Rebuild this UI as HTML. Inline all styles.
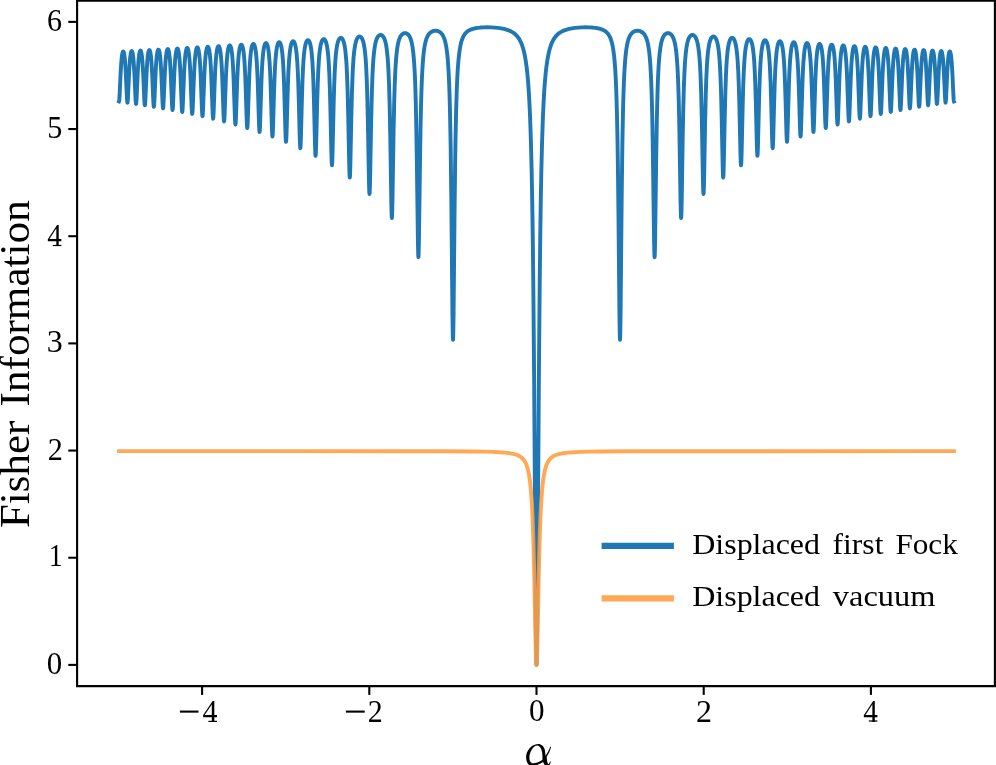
<!DOCTYPE html><html><head><meta charset="utf-8"><title>Fisher Information</title><style>html,body{margin:0;padding:0;background:#fff}body{width:996px;height:765px;overflow:hidden}svg{display:block}text{font-family:"Liberation Serif",serif;fill:#000}</style></head><body>
<svg width="996" height="765" viewBox="0 0 996 765">
<rect width="996" height="765" fill="#fff"/>
<path d="M119.00 101.45L119.14 101.08L119.28 99.99L119.56 95.99L120.67 72.11L121.23 63.09L121.78 57.07L122.06 55.00L122.48 52.85L122.76 51.99L123.04 51.55L123.18 51.48L123.31 51.50L123.45 51.63L123.73 52.18L124.01 53.16L124.29 54.59L124.85 59.09L125.26 64.18L125.68 71.03L126.93 98.05L127.21 101.68L127.35 102.50L127.44 102.64L127.63 101.91L127.91 98.54L129.16 71.60L129.86 60.91L130.27 56.69L130.83 53.09L131.25 51.61L131.53 51.14L131.66 51.04L131.80 51.04L132.08 51.33L132.36 52.01L132.78 53.83L133.19 56.75L133.61 61.01L134.31 71.85L135.56 99.48L135.84 103.05L135.98 103.81L136.05 103.91L136.12 103.81L136.26 103.04L136.54 99.45L137.79 71.84L138.48 60.96L138.90 56.65L139.46 52.91L139.88 51.32L140.15 50.76L140.43 50.57L140.71 50.74L140.99 51.29L141.41 52.85L141.96 56.55L142.38 60.85L143.08 71.75L144.33 100.11L144.61 104.08L144.75 105.05L144.85 105.27L144.88 105.24L145.02 104.65L145.16 103.30L145.44 98.75L146.56 73.12L147.25 61.68L147.67 57.08L148.22 53.02L148.50 51.71L148.78 50.80L149.06 50.27L149.34 50.09L149.62 50.26L149.89 50.78L150.17 51.68L150.45 52.99L151.01 57.05L151.43 61.66L152.12 73.19L153.37 102.21L153.65 105.89L153.79 106.65L153.85 106.73L153.93 106.61L154.07 105.77L154.35 101.95L155.60 72.93L156.02 65.43L156.44 59.76L156.85 55.63L157.41 52.01L157.69 50.87L157.97 50.10L158.25 49.68L158.52 49.60L158.80 49.85L159.08 50.44L159.36 51.39L159.64 52.74L160.19 56.87L160.61 61.52L161.31 73.13L162.56 102.99L162.84 107.12L162.98 108.11L163.08 108.32L163.12 108.28L163.25 107.63L163.53 104.07L164.79 74.40L165.20 66.51L165.62 60.50L166.04 56.07L166.60 52.13L166.87 50.83L167.15 49.91L167.43 49.34L167.57 49.17L167.85 49.08L168.13 49.30L168.26 49.53L168.54 50.24L168.82 51.31L169.10 52.78L169.66 57.15L170.07 62.00L170.77 74.04L172.02 104.72L172.30 108.88L172.44 109.85L172.53 110.04L172.72 109.27L173.00 105.53L174.25 75.02L174.67 66.93L175.08 60.74L175.64 54.96L176.20 51.31L176.48 50.11L176.75 49.27L177.03 48.75L177.17 48.60L177.45 48.54L177.73 48.77L177.87 49.00L178.15 49.70L178.42 50.73L178.70 52.15L179.26 56.35L179.68 61.01L180.09 67.33L180.51 75.62L181.76 107.11L182.04 111.04L182.18 111.83L182.24 111.90L182.32 111.75L182.46 110.81L182.74 106.62L183.99 75.12L184.41 66.94L184.83 60.70L185.38 54.83L185.94 51.08L186.22 49.82L186.64 48.57L186.91 48.12L187.05 48.01L187.33 47.98L187.61 48.24L187.75 48.47L188.03 49.17L188.31 50.19L188.58 51.57L189.14 55.65L189.70 61.98L190.11 68.71L190.53 77.47L191.64 106.90L191.92 111.95L192.06 113.38L192.22 113.95L192.34 113.61L192.48 112.40L192.76 107.70L194.01 75.18L194.43 66.93L194.85 60.63L195.40 54.68L195.96 50.84L196.24 49.53L196.65 48.18L196.93 47.65L197.07 47.49L197.35 47.36L197.63 47.50L197.77 47.66L198.05 48.20L198.46 49.57L198.74 50.90L199.30 54.80L199.86 60.85L200.27 67.27L200.69 75.71L201.94 109.36L202.22 114.38L202.36 115.74L202.50 116.19L202.64 115.72L202.78 114.36L203.06 109.32L204.31 75.76L204.73 67.31L205.14 60.86L205.70 54.74L206.26 50.73L206.54 49.34L206.95 47.86L207.37 47.01L207.51 46.86L207.79 46.74L208.07 46.86L208.21 47.01L208.62 47.86L209.04 49.35L209.32 50.76L209.88 54.79L210.43 60.98L210.85 67.53L211.27 76.12L212.66 113.99L212.94 117.98L213.11 118.67L213.22 118.37L213.36 117.15L213.63 112.25L214.89 77.56L215.30 68.66L215.86 59.94L216.42 54.03L216.69 51.88L217.11 49.42L217.39 48.21L217.81 46.95L218.23 46.25L218.37 46.14L218.64 46.09L218.92 46.26L219.06 46.43L219.48 47.31L219.90 48.79L220.17 50.17L220.59 52.95L220.87 55.38L221.43 61.99L221.84 68.94L222.26 78.03L223.51 114.09L223.79 119.48L223.93 120.93L224.07 121.43L224.21 120.93L224.35 119.48L224.63 114.10L225.88 78.14L226.30 69.05L226.85 60.14L227.41 54.08L227.69 51.84L228.11 49.27L228.52 47.45L228.94 46.25L229.36 45.58L229.50 45.46L229.78 45.39L230.06 45.52L230.19 45.67L230.61 46.44L231.03 47.75L231.45 49.72L231.86 52.48L232.14 54.87L232.70 61.37L233.26 70.92L233.67 80.64L234.93 118.04L235.20 123.10L235.34 124.29L235.44 124.51L235.62 123.60L235.90 119.09L237.29 78.39L237.71 69.19L238.27 60.17L238.54 56.79L238.96 52.81L239.24 50.74L239.66 48.35L240.07 46.65L240.49 45.51L240.91 44.86L241.19 44.67L241.47 44.68L241.88 45.04L242.30 45.86L242.72 47.19L243.14 49.13L243.55 51.83L243.83 54.16L244.25 58.63L244.53 62.43L245.08 72.53L245.50 82.78L246.75 121.69L247.03 126.74L247.17 127.84L247.25 127.99L247.31 127.88L247.45 126.85L247.73 121.92L249.12 79.49L249.54 70.00L250.10 60.68L250.37 57.17L250.79 53.02L251.07 50.85L251.49 48.31L251.90 46.46L252.46 44.84L252.88 44.16L253.16 43.93L253.44 43.88L253.71 44.00L253.99 44.29L254.41 45.07L254.97 46.86L255.38 48.88L255.80 51.65L256.08 54.00L256.50 58.52L256.78 62.33L257.33 72.47L257.75 82.79L259.00 123.60L259.28 129.71L259.42 131.37L259.56 131.96L259.70 131.42L259.98 127.19L261.51 79.40L261.92 69.88L262.48 60.55L263.18 52.84L263.59 49.69L264.01 47.33L264.43 45.60L264.99 44.06L265.26 43.57L265.54 43.24L265.82 43.08L266.10 43.06L266.38 43.20L266.66 43.50L267.07 44.26L267.63 45.95L268.05 47.82L268.46 50.37L268.88 53.77L269.58 62.10L270.13 72.20L270.55 82.51L271.94 129.27L272.22 134.98L272.36 136.29L272.45 136.52L272.64 135.42L272.78 133.30L273.06 126.33L274.03 92.22L274.45 79.94L274.87 70.26L275.42 60.77L276.12 52.90L276.54 49.64L277.09 46.51L277.65 44.39L278.21 43.04L278.49 42.62L278.76 42.33L279.04 42.19L279.32 42.18L279.74 42.42L280.02 42.76L280.57 43.89L281.13 45.76L281.55 47.76L281.96 50.43L282.38 53.95L283.08 62.51L283.63 72.86L284.05 83.42L285.58 136.52L285.86 141.23L286.00 141.85L286.14 141.22L286.28 139.40L286.56 132.69L287.53 96.94L288.09 79.84L288.50 70.16L289.06 60.67L289.76 52.76L290.18 49.46L290.73 46.24L291.29 44.01L291.85 42.52L292.12 42.01L292.54 41.49L292.82 41.29L293.24 41.23L293.65 41.42L293.93 41.70L294.49 42.67L295.05 44.24L295.60 46.60L296.16 50.00L296.58 53.50L297.27 61.90L297.83 72.00L298.25 82.35L298.80 100.64L299.78 138.73L300.06 145.73L300.19 147.59L300.33 148.16L300.47 147.43L300.61 145.43L300.89 138.22L301.87 100.27L302.42 82.21L302.98 69.12L303.53 59.94L303.95 54.91L304.37 51.05L304.79 48.07L305.34 45.12L305.90 43.04L306.18 42.26L306.60 41.35L306.88 40.91L307.29 40.45L307.71 40.22L308.13 40.22L308.54 40.44L308.82 40.72L309.24 41.35L309.52 41.93L310.08 43.51L310.63 45.80L311.19 49.06L311.61 52.35L312.02 56.64L312.44 62.23L313.00 72.49L313.42 83.00L313.97 101.72L315.09 147.53L315.36 154.15L315.50 155.60L315.58 155.81L315.64 155.67L315.78 154.34L316.06 147.94L317.17 102.53L317.73 83.77L318.29 70.23L318.84 60.72L319.26 55.49L319.82 50.32L320.37 46.61L320.93 43.94L321.63 41.63L322.32 40.17L322.74 39.61L323.16 39.25L323.58 39.09L323.99 39.11L324.41 39.32L324.83 39.72L325.25 40.34L325.52 40.88L326.22 42.79L326.92 45.72L327.47 49.11L327.89 52.51L328.31 56.88L328.72 62.56L329.28 72.94L329.84 87.78L330.39 108.37L331.37 152.54L331.65 161.40L331.79 164.04L331.97 165.31L332.06 164.95L332.20 163.16L332.48 155.68L333.60 106.47L334.15 86.59L334.71 72.26L335.40 60.17L335.82 55.07L336.38 49.98L336.94 46.28L337.63 43.01L338.05 41.57L338.47 40.43L338.88 39.54L339.30 38.87L339.72 38.38L340.28 37.98L340.69 37.85L341.25 37.92L341.81 38.25L342.22 38.69L342.64 39.31L343.06 40.13L343.75 42.06L344.45 44.92L345.01 48.15L345.56 52.59L346.12 58.75L346.54 64.97L347.09 76.30L347.65 92.48L348.21 114.92L349.18 163.26L349.46 173.06L349.60 176.03L349.79 177.54L349.88 177.19L350.02 175.33L350.29 167.29L351.41 113.59L351.97 91.77L352.66 72.87L353.36 60.66L353.91 54.01L354.47 49.18L355.17 44.89L355.86 41.90L356.28 40.55L356.84 39.15L357.25 38.33L357.81 37.52L358.37 36.95L358.92 36.61L359.62 36.47L360.18 36.59L360.73 36.90L361.29 37.44L361.85 38.23L362.26 39.02L362.68 40.02L363.10 41.25L363.79 44.00L364.49 47.94L365.05 52.35L365.60 58.40L366.02 64.45L366.72 78.81L367.27 95.88L367.83 119.73L368.94 180.44L369.22 190.42L369.36 193.12L369.50 194.03L369.64 193.11L369.78 190.41L370.06 180.46L371.17 120.38L371.87 91.90L372.56 73.17L372.98 65.28L373.40 59.15L373.95 52.98L374.65 47.48L375.07 45.01L375.48 43.00L376.32 39.99L376.88 38.54L377.43 37.41L377.99 36.54L378.69 35.76L379.38 35.25L380.08 34.97L380.91 34.93L381.61 35.13L382.30 35.57L383.00 36.27L383.56 37.06L384.11 38.10L384.67 39.45L385.09 40.71L385.92 44.10L386.62 48.18L387.31 54.02L387.87 60.60L388.29 67.14L388.98 82.58L389.68 106.59L390.24 134.48L391.35 203.99L391.63 214.72L391.77 217.35L391.87 217.98L392.04 216.38L392.18 212.84L392.46 200.75L393.58 131.77L394.27 99.70L394.69 85.97L395.11 75.40L395.52 67.22L396.08 59.02L396.78 51.76L397.19 48.51L397.61 45.86L398.03 43.67L398.59 41.32L399.14 39.46L399.70 37.98L400.39 36.54L401.09 35.44L401.93 34.46L402.90 33.69L403.87 33.25L404.85 33.07L405.82 33.15L406.80 33.51L407.63 34.05L408.33 34.71L409.02 35.59L409.72 36.76L410.28 37.96L410.83 39.46L411.39 41.34L411.81 43.07L412.64 47.65L413.34 53.13L414.03 60.97L414.59 69.84L415.01 78.68L415.43 90.13L416.12 117.47L416.82 159.05L417.93 242.70L418.21 254.47L418.35 256.92L418.41 257.20L418.49 256.84L418.63 254.25L418.90 242.32L420.16 150.46L420.57 125.96L420.99 106.77L421.41 91.95L421.97 77.30L422.66 64.63L423.36 55.99L423.78 52.10L424.33 47.97L424.89 44.75L425.45 42.20L426.14 39.70L426.84 37.76L427.67 35.97L428.51 34.60L429.62 33.25L430.87 32.19L432.26 31.42L432.96 31.16L433.80 30.94L434.63 30.81L435.47 30.77L436.30 30.81L437.13 30.94L437.97 31.16L438.67 31.43L439.36 31.78L440.06 32.23L441.03 33.05L442.01 34.17L442.84 35.43L443.68 37.09L444.37 38.87L444.93 40.64L445.49 42.81L446.04 45.50L446.60 48.89L447.02 52.02L447.43 55.81L447.85 60.43L448.55 70.71L449.10 82.28L449.52 93.81L449.94 108.70L450.63 144.26L451.33 198.75L452.44 313.99L452.72 332.90L452.86 338.00L453.00 339.73L453.14 338.00L453.28 332.93L453.56 314.26L454.53 214.89L455.09 167.18L455.50 139.96L456.06 113.00L456.76 89.99L457.17 80.05L457.73 69.89L458.29 62.26L458.98 55.14L459.68 49.89L460.51 45.23L461.07 42.83L461.63 40.84L462.19 39.18L462.88 37.46L463.58 36.05L464.27 34.87L465.11 33.71L466.08 32.61L467.06 31.73L468.17 30.91L469.42 30.18L470.67 29.60L472.07 29.08L473.74 28.60L475.55 28.21L477.49 27.89L480.42 27.57L483.76 27.37L487.37 27.31L491.13 27.39L494.75 27.60L498.09 27.93L501.15 28.38L503.94 28.93L506.30 29.55L508.53 30.30L510.48 31.14L512.28 32.11L513.82 33.12L515.35 34.36L516.74 35.75L517.99 37.27L518.83 38.47L519.52 39.60L520.77 42.02L522.03 45.08L523.14 48.51L524.11 52.26L525.09 56.96L525.92 61.97L526.62 67.08L527.32 73.27L528.01 80.86L528.57 88.24L529.12 97.10L529.68 107.84L530.10 117.45L530.93 141.95L531.63 169.78L532.19 198.85L532.74 236.03L533.30 283.68L534.13 379.62L535.80 623.30L536.22 657.86L536.36 663.13L536.50 664.90L536.64 663.13L536.78 657.86L537.20 623.30L538.87 379.62L539.70 283.68L540.26 236.03L540.81 198.85L541.37 169.78L542.07 141.95L542.90 117.45L543.32 107.84L543.88 97.10L544.43 88.24L544.99 80.86L545.69 73.27L546.38 67.08L547.08 61.97L547.91 56.96L548.89 52.26L549.86 48.51L550.97 45.08L552.23 42.02L553.48 39.60L554.17 38.47L555.01 37.27L556.26 35.75L557.65 34.36L559.18 33.12L560.72 32.11L562.52 31.14L564.47 30.30L566.70 29.55L569.07 28.93L571.85 28.38L574.91 27.93L578.25 27.60L581.87 27.39L585.63 27.31L589.24 27.37L592.58 27.57L595.51 27.89L597.46 28.21L599.26 28.60L600.93 29.08L602.33 29.60L603.58 30.18L604.83 30.91L605.94 31.73L606.92 32.61L607.89 33.71L608.73 34.87L609.42 36.05L610.12 37.46L610.82 39.18L611.37 40.84L611.93 42.83L612.49 45.23L613.32 49.89L614.02 55.14L614.71 62.26L615.27 69.89L615.83 80.05L616.24 89.99L616.94 113.00L617.50 139.96L617.91 167.18L618.47 214.89L619.44 314.26L619.72 332.93L619.86 338.00L620.00 339.73L620.14 338.00L620.28 332.90L620.56 313.99L621.67 198.75L622.37 144.26L623.06 108.70L623.48 93.81L623.90 82.28L624.45 70.71L625.15 60.43L625.57 55.81L625.98 52.02L626.40 48.89L626.96 45.50L627.52 42.81L628.07 40.64L628.63 38.87L629.32 37.09L630.16 35.43L630.99 34.17L631.97 33.05L632.94 32.23L633.64 31.78L634.33 31.43L635.03 31.16L635.87 30.94L636.70 30.81L637.53 30.77L638.37 30.81L639.21 30.94L640.04 31.16L640.74 31.42L642.13 32.19L643.38 33.25L644.49 34.60L645.33 35.97L646.16 37.76L646.86 39.70L647.56 42.20L648.11 44.75L648.67 47.97L649.23 52.10L649.64 55.99L650.34 64.63L651.03 77.30L651.59 91.95L652.01 106.77L652.43 125.96L652.84 150.46L654.10 242.32L654.37 254.25L654.51 256.84L654.59 257.20L654.65 256.92L654.79 254.47L655.07 242.70L656.18 159.05L656.88 117.47L657.58 90.13L657.99 78.68L658.41 69.84L658.97 60.97L659.66 53.13L660.36 47.65L661.19 43.07L661.61 41.34L662.17 39.46L662.72 37.96L663.28 36.76L663.98 35.59L664.67 34.71L665.37 34.05L666.20 33.51L667.18 33.15L668.15 33.07L669.13 33.25L670.10 33.69L671.07 34.46L671.91 35.44L672.61 36.54L673.30 37.98L673.86 39.46L674.41 41.32L674.97 43.67L675.39 45.86L675.81 48.51L676.22 51.76L676.92 59.02L677.48 67.22L677.89 75.40L678.31 85.97L678.73 99.70L679.42 131.77L680.54 200.75L680.82 212.84L680.96 216.38L681.13 217.98L681.23 217.35L681.37 214.72L681.65 203.99L682.76 134.48L683.32 106.59L684.02 82.58L684.71 67.14L685.13 60.60L685.69 54.02L686.38 48.18L687.08 44.10L687.91 40.71L688.33 39.45L688.89 38.10L689.44 37.06L690.00 36.27L690.70 35.57L691.39 35.13L692.09 34.93L692.92 34.97L693.62 35.25L694.32 35.76L695.01 36.54L695.57 37.41L696.12 38.54L696.68 39.99L697.52 43.00L697.93 45.01L698.35 47.48L699.05 52.98L699.60 59.15L700.02 65.28L700.44 73.17L701.13 91.90L701.83 120.38L702.94 180.46L703.22 190.41L703.36 193.11L703.50 194.03L703.64 193.12L703.78 190.42L704.06 180.44L705.17 119.73L705.73 95.88L706.28 78.81L706.98 64.45L707.40 58.40L707.95 52.35L708.51 47.94L709.21 44.00L709.90 41.25L710.32 40.02L710.74 39.02L711.15 38.23L711.71 37.44L712.27 36.90L712.82 36.59L713.38 36.47L714.08 36.61L714.63 36.95L715.19 37.52L715.75 38.33L716.16 39.15L716.72 40.55L717.14 41.90L717.83 44.89L718.53 49.18L719.09 54.01L719.64 60.66L720.34 72.87L721.04 91.77L721.59 113.59L722.71 167.29L722.98 175.33L723.12 177.19L723.21 177.54L723.40 176.03L723.54 173.06L723.82 163.26L724.79 114.92L725.35 92.48L725.91 76.30L726.46 64.97L726.88 58.75L727.44 52.59L727.99 48.15L728.55 44.92L729.25 42.06L729.94 40.13L730.36 39.31L730.78 38.69L731.19 38.25L731.75 37.92L732.31 37.85L732.73 37.98L733.28 38.38L733.70 38.87L734.12 39.54L734.53 40.43L734.95 41.57L735.37 43.01L736.07 46.28L736.62 49.98L737.18 55.07L737.60 60.17L738.29 72.26L738.85 86.59L739.41 106.47L740.52 155.68L740.80 163.16L740.94 164.95L741.03 165.31L741.21 164.04L741.35 161.40L741.63 152.54L742.61 108.37L743.16 87.78L743.72 72.94L744.28 62.56L744.69 56.88L745.11 52.51L745.53 49.11L746.09 45.72L746.78 42.79L747.48 40.88L747.75 40.34L748.17 39.72L748.59 39.32L749.01 39.11L749.43 39.09L749.84 39.25L750.26 39.61L750.68 40.17L751.37 41.63L752.07 43.94L752.63 46.61L753.18 50.32L753.74 55.49L754.16 60.72L754.71 70.23L755.27 83.77L755.83 102.53L756.94 147.94L757.22 154.34L757.36 155.67L757.42 155.81L757.50 155.60L757.64 154.15L757.91 147.53L759.03 101.72L759.58 83.00L760.00 72.49L760.56 62.23L760.98 56.64L761.39 52.35L761.81 49.06L762.37 45.80L762.92 43.51L763.48 41.93L763.76 41.35L764.18 40.72L764.46 40.44L764.87 40.22L765.29 40.22L765.71 40.45L766.13 40.91L766.40 41.35L766.82 42.26L767.10 43.04L767.66 45.12L768.21 48.07L768.63 51.05L769.05 54.91L769.47 59.94L770.02 69.12L770.58 82.21L771.13 100.27L772.11 138.22L772.39 145.43L772.53 147.43L772.67 148.16L772.81 147.59L772.94 145.73L773.22 138.73L774.20 100.64L774.75 82.35L775.17 72.00L775.73 61.90L776.42 53.50L776.84 50.00L777.40 46.60L777.95 44.24L778.51 42.67L779.07 41.70L779.35 41.42L779.76 41.23L780.18 41.29L780.46 41.49L780.88 42.01L781.16 42.52L781.71 44.01L782.27 46.24L782.83 49.46L783.24 52.76L783.94 60.67L784.50 70.16L784.91 79.84L785.47 96.94L786.44 132.69L786.72 139.40L786.86 141.22L787.00 141.85L787.14 141.23L787.42 136.52L788.95 83.42L789.37 72.86L789.92 62.51L790.62 53.95L791.04 50.43L791.45 47.76L791.87 45.76L792.43 43.89L792.98 42.76L793.26 42.42L793.68 42.18L793.96 42.19L794.24 42.33L794.51 42.62L794.79 43.04L795.35 44.39L795.91 46.51L796.46 49.64L796.88 52.90L797.58 60.77L798.13 70.26L798.55 79.94L798.97 92.22L799.94 126.33L800.22 133.30L800.36 135.42L800.55 136.52L800.64 136.29L800.78 134.98L801.06 129.27L802.45 82.51L802.87 72.20L803.42 62.10L804.12 53.77L804.54 50.37L804.95 47.82L805.37 45.95L805.93 44.26L806.34 43.50L806.62 43.20L806.90 43.06L807.18 43.08L807.46 43.24L807.74 43.57L808.01 44.06L808.57 45.60L808.99 47.33L809.41 49.69L809.82 52.84L810.52 60.55L811.08 69.88L811.49 79.40L813.02 127.19L813.30 131.42L813.44 131.96L813.58 131.37L813.72 129.71L814.00 123.60L815.25 82.79L815.67 72.47L816.23 62.33L816.50 58.52L816.92 54.00L817.20 51.65L817.62 48.88L818.03 46.86L818.59 45.07L819.01 44.29L819.29 44.00L819.57 43.88L819.84 43.93L820.12 44.16L820.54 44.84L821.10 46.46L821.51 48.31L821.93 50.85L822.21 53.02L822.63 57.17L822.90 60.68L823.46 70.00L823.88 79.49L825.27 121.92L825.55 126.85L825.69 127.88L825.75 127.99L825.83 127.84L825.97 126.74L826.25 121.69L827.50 82.78L827.91 72.53L828.47 62.43L828.75 58.63L829.17 54.16L829.45 51.83L829.86 49.13L830.28 47.19L830.70 45.86L831.12 45.04L831.53 44.68L831.81 44.67L832.09 44.86L832.51 45.51L832.93 46.65L833.34 48.35L833.76 50.74L834.04 52.81L834.46 56.79L834.73 60.17L835.29 69.19L835.71 78.39L837.10 119.09L837.38 123.60L837.56 124.51L837.66 124.29L837.80 123.10L838.07 118.04L839.33 80.64L839.74 70.92L840.30 61.37L840.86 54.87L841.14 52.48L841.55 49.72L841.97 47.75L842.39 46.44L842.81 45.67L842.94 45.52L843.22 45.39L843.50 45.46L843.64 45.58L844.06 46.25L844.48 47.45L844.89 49.27L845.31 51.84L845.59 54.08L846.15 60.14L846.70 69.05L847.12 78.14L848.37 114.10L848.65 119.48L848.79 120.93L848.93 121.43L849.07 120.93L849.21 119.48L849.49 114.09L850.74 78.03L851.16 68.94L851.57 61.99L852.13 55.38L852.41 52.95L852.83 50.17L853.10 48.79L853.52 47.31L853.94 46.43L854.08 46.26L854.36 46.09L854.63 46.14L854.77 46.25L855.19 46.95L855.61 48.21L855.89 49.42L856.31 51.88L856.58 54.03L857.14 59.94L857.70 68.66L858.11 77.56L859.37 112.25L859.65 117.15L859.78 118.37L859.89 118.67L860.06 117.98L860.34 113.99L861.73 76.12L862.15 67.53L862.57 60.98L863.12 54.79L863.68 50.76L863.96 49.35L864.38 47.86L864.79 47.01L864.93 46.86L865.21 46.74L865.49 46.86L865.63 47.01L866.05 47.86L866.46 49.34L866.74 50.73L867.30 54.74L867.86 60.86L868.27 67.31L868.69 75.76L869.94 109.32L870.22 114.36L870.36 115.72L870.50 116.19L870.64 115.74L870.78 114.38L871.06 109.36L872.31 75.71L872.73 67.27L873.14 60.85L873.70 54.80L874.26 50.90L874.54 49.57L874.95 48.20L875.23 47.66L875.37 47.50L875.65 47.36L875.93 47.49L876.07 47.65L876.35 48.18L876.76 49.53L877.04 50.84L877.60 54.68L878.15 60.63L878.57 66.93L878.99 75.18L880.24 107.70L880.52 112.40L880.66 113.61L880.78 113.95L880.94 113.38L881.08 111.95L881.36 106.90L882.47 77.47L882.89 68.71L883.30 61.98L883.86 55.65L884.42 51.57L884.69 50.19L884.97 49.17L885.25 48.47L885.39 48.24L885.67 47.98L885.95 48.01L886.09 48.12L886.37 48.57L886.78 49.82L887.06 51.08L887.62 54.83L888.17 60.70L888.59 66.94L889.01 75.12L890.26 106.62L890.54 110.81L890.68 111.75L890.76 111.90L890.82 111.83L890.96 111.04L891.24 107.11L892.49 75.62L892.91 67.33L893.32 61.01L893.74 56.35L894.30 52.15L894.58 50.73L894.85 49.70L895.13 49.00L895.27 48.77L895.55 48.54L895.83 48.60L895.97 48.75L896.25 49.27L896.52 50.11L896.80 51.31L897.36 54.96L897.92 60.74L898.33 66.93L898.75 75.02L900.00 105.53L900.28 109.27L900.47 110.04L900.56 109.85L900.70 108.88L900.98 104.72L902.23 74.04L902.93 62.00L903.34 57.15L903.90 52.78L904.18 51.31L904.46 50.24L904.74 49.53L904.87 49.30L905.15 49.08L905.43 49.17L905.57 49.34L905.85 49.91L906.13 50.83L906.41 52.13L906.96 56.07L907.38 60.50L907.80 66.51L908.21 74.40L909.47 104.07L909.75 107.63L909.88 108.28L909.92 108.32L910.02 108.11L910.16 107.12L910.44 102.99L911.69 73.13L912.39 61.52L912.81 56.87L913.36 52.74L913.64 51.39L913.92 50.44L914.20 49.85L914.48 49.60L914.76 49.68L915.03 50.10L915.31 50.87L915.59 52.01L916.15 55.63L916.56 59.76L916.98 65.43L917.40 72.93L918.65 101.95L918.93 105.77L919.07 106.61L919.15 106.73L919.21 106.65L919.35 105.89L919.63 102.21L920.88 73.19L921.57 61.66L921.99 57.05L922.55 52.99L922.83 51.68L923.11 50.78L923.38 50.26L923.66 50.09L923.94 50.27L924.22 50.80L924.50 51.71L924.78 53.02L925.33 57.08L925.75 61.68L926.44 73.12L927.56 98.75L927.84 103.30L927.98 104.65L928.12 105.24L928.15 105.27L928.25 105.05L928.39 104.08L928.67 100.11L929.92 71.75L930.62 60.85L931.04 56.55L931.59 52.85L932.01 51.29L932.29 50.74L932.57 50.57L932.85 50.76L933.12 51.32L933.54 52.91L934.10 56.65L934.52 60.96L935.21 71.84L936.47 99.45L936.74 103.04L936.88 103.81L936.95 103.91L937.02 103.81L937.16 103.05L937.44 99.48L938.69 71.85L939.39 61.01L939.81 56.75L940.22 53.83L940.64 52.01L940.92 51.33L941.20 51.04L941.34 51.04L941.48 51.14L941.75 51.61L942.17 53.09L942.73 56.69L943.15 60.91L943.84 71.60L945.09 98.54L945.37 101.91L945.56 102.64L945.65 102.50L945.79 101.68L946.07 98.05L947.32 71.03L947.74 64.18L948.16 59.09L948.71 54.59L948.99 53.16L949.27 52.18L949.55 51.63L949.69 51.50L949.83 51.48L949.96 51.55L950.24 51.99L950.52 52.85L950.94 55.00L951.22 57.07L951.77 63.09L952.33 72.11L953.44 95.99L953.72 99.99L953.86 101.08L954.00 101.45" fill="none" stroke="#1f77b4" stroke-width="3.9" stroke-linejoin="round" stroke-linecap="square"/>
<path d="M119.00 451.14L393.58 451.20L443.81 451.30L473.04 451.50L484.03 451.67L492.66 451.90L499.48 452.21L505.05 452.62L509.50 453.15L513.26 453.84L514.93 454.27L516.32 454.72L517.57 455.20L518.83 455.78L520.22 456.59L521.47 457.51L522.58 458.54L523.56 459.65L524.53 461.02L525.37 462.48L526.20 464.28L526.90 466.12L527.59 468.36L528.15 470.52L528.71 473.09L529.26 476.19L530.10 482.15L530.93 490.33L531.63 499.61L532.19 509.31L532.74 521.72L533.30 537.62L534.13 569.64L535.80 651.01L536.22 662.55L536.36 664.31L536.50 664.90L536.64 664.31L536.78 662.55L537.20 651.01L538.87 569.64L539.70 537.62L540.26 521.72L540.81 509.31L541.37 499.61L542.07 490.33L542.90 482.15L543.74 476.19L544.29 473.09L544.85 470.52L545.41 468.36L546.10 466.12L546.80 464.28L547.63 462.48L548.47 461.02L549.44 459.65L550.42 458.54L551.53 457.51L552.78 456.59L554.17 455.78L555.43 455.20L556.68 454.72L558.07 454.27L559.74 453.84L563.50 453.15L567.95 452.62L573.52 452.21L580.34 451.90L588.97 451.67L599.96 451.50L629.19 451.30L679.42 451.20L954.00 451.14" fill="none" stroke="rgb(255,157,65)" stroke-opacity="0.89" stroke-width="3.9" stroke-linejoin="round" stroke-linecap="square"/>
<path d="M77.1 0.65H994.9V686.1H77.1Z" stroke="#000" stroke-width="2.1" fill="none"/>
<g stroke="#000" stroke-width="2.1" fill="none">
<path d="M77.10 664.90h-8.8"/>
<path d="M77.10 557.73h-8.8"/>
<path d="M77.10 450.56h-8.8"/>
<path d="M77.10 343.39h-8.8"/>
<path d="M77.10 236.22h-8.8"/>
<path d="M77.10 129.05h-8.8"/>
<path d="M77.10 21.88h-8.8"/>
<path d="M202.10 686.10v8.8"/>
<path d="M369.30 686.10v8.8"/>
<path d="M536.50 686.10v8.8"/>
<path d="M703.70 686.10v8.8"/>
<path d="M870.90 686.10v8.8"/>
</g>
<g style="filter:grayscale(1)">
<text transform="rotate(-90)" x="-527.97" y="29.00" font-size="41.8" textLength="107.18" lengthAdjust="spacingAndGlyphs">Fisher</text>
<text transform="rotate(-90)" x="-406.45" y="29.00" font-size="41.8" textLength="206.15" lengthAdjust="spacingAndGlyphs">Information</text>
<text x="692.30" y="553.60" font-size="30" textLength="127.70" lengthAdjust="spacingAndGlyphs">Displaced</text>
<text x="832.61" y="553.60" font-size="30" textLength="50.78" lengthAdjust="spacingAndGlyphs">first</text>
<text x="895.41" y="553.60" font-size="30" textLength="62.39" lengthAdjust="spacingAndGlyphs">Fock</text>
<text x="692.30" y="605.60" font-size="30" textLength="127.70" lengthAdjust="spacingAndGlyphs">Displaced</text>
<text x="832.80" y="605.60" font-size="30" textLength="102.60" lengthAdjust="spacingAndGlyphs">vacuum</text>
<text x="46.84" y="673.70" font-size="32" textLength="15.43" lengthAdjust="spacingAndGlyphs">0</text>
<text x="48.73" y="566.23" font-size="32" textLength="13.87" lengthAdjust="spacingAndGlyphs">1</text>
<text x="47.86" y="459.66" font-size="32" textLength="15.05" lengthAdjust="spacingAndGlyphs">2</text>
<text x="46.70" y="352.49" font-size="32" textLength="16.00" lengthAdjust="spacingAndGlyphs">3</text>
<text x="47.35" y="245.92" font-size="32" textLength="14.51" lengthAdjust="spacingAndGlyphs">4</text>
<text x="47.29" y="138.30" font-size="32" textLength="15.05" lengthAdjust="spacingAndGlyphs">5</text>
<text x="47.06" y="31.38" font-size="32" textLength="15.01" lengthAdjust="spacingAndGlyphs">6</text>
<text x="202.53" y="722.00" font-size="32" textLength="14.93" lengthAdjust="spacingAndGlyphs">4</text>
<text x="367.87" y="721.70" font-size="32" textLength="14.93" lengthAdjust="spacingAndGlyphs">2</text>
<text x="529.03" y="721.20" font-size="32" textLength="15.54" lengthAdjust="spacingAndGlyphs">0</text>
<text x="695.90" y="721.70" font-size="32" textLength="16.00" lengthAdjust="spacingAndGlyphs">2</text>
<text x="863.24" y="721.60" font-size="32" textLength="14.61" lengthAdjust="spacingAndGlyphs">4</text>
<rect x="179.90" y="710.55" width="18.60" height="2.10" fill="#000"/>
<rect x="345.90" y="710.55" width="18.80" height="2.10" fill="#000"/>
<rect x="208.40" y="720.80" width="8.60" height="1.20" fill="#000"/>
<rect x="868.80" y="720.40" width="8.60" height="1.20" fill="#000"/>
<rect x="52.80" y="244.90" width="8.60" height="1.20" fill="#000"/>
</g>
<path transform="translate(520 738) scale(0.038153)" fill="#000" fill-rule="evenodd" d="M470,157 C555,152 622,215 648,300 C660,350 666,410 668,468 C716,408 765,312 795,226 L813,237 C790,332 748,420 700,492 C702,560 714,640 739,690 C757,680 777,650 791,607 L806,618 C798,675 765,740 718,746 C678,750 640,715 604,628 C560,655 500,690 430,715 C400,728 370,746 335,748 C232,750 157,640 160,490 C164,335 300,165 470,157 Z M452,196 C522,196 575,300 585,420 C588,470 590,520 588,568 C540,600 470,640 400,655 C375,660 355,662 335,662 C270,662 242,590 247,500 C254,365 350,196 452,196 Z"/>
<path d="M601.6 545.8H673.9" stroke="#1f77b4" stroke-width="6.3"/>
<path d="M601.6 598.3H673.9" stroke="rgb(255,157,65)" stroke-opacity="0.89" stroke-width="6.3"/>
</svg></body></html>
